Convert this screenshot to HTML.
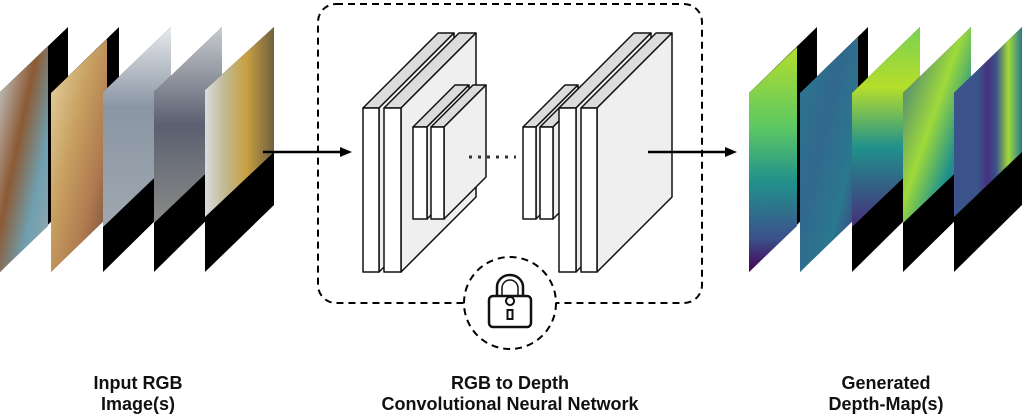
<!DOCTYPE html>
<html><head><meta charset="utf-8"><style>
html,body{margin:0;padding:0;background:#fff;width:1024px;height:416px;overflow:hidden}
svg{display:block}
text{font-family:"Liberation Sans",sans-serif;font-weight:bold;font-size:18px;fill:#111;text-anchor:middle}
</style></head><body>
<svg width="1024" height="416" viewBox="0 0 1024 416" xmlns="http://www.w3.org/2000/svg">
<defs>
<linearGradient id="p1" x1="0" y1="0" x2="1" y2="1"><stop offset="0" stop-color="#c9d3d8"/><stop offset=".4" stop-color="#8c5a34"/><stop offset=".7" stop-color="#6fa0b0"/><stop offset="1" stop-color="#9aa6ad"/></linearGradient>
<linearGradient id="p2" x1="0" y1="0" x2="1" y2="1"><stop offset="0" stop-color="#e8d8a8"/><stop offset=".4" stop-color="#c8a060"/><stop offset=".7" stop-color="#b07a50"/><stop offset="1" stop-color="#6a4a38"/></linearGradient>
<linearGradient id="p3" x1="0" y1="0" x2="0" y2="1"><stop offset="0" stop-color="#e8eaec"/><stop offset=".4" stop-color="#8a96a4"/><stop offset="1" stop-color="#a0a8b0"/></linearGradient>
<linearGradient id="p4" x1="0" y1="0" x2="0" y2="1"><stop offset="0" stop-color="#c8ccd0"/><stop offset=".5" stop-color="#5a6070"/><stop offset="1" stop-color="#8a8a88"/></linearGradient>
<linearGradient id="p5" x1="0" y1="0" x2="1" y2="0"><stop offset="0" stop-color="#d8dce0"/><stop offset=".3" stop-color="#c0b890"/><stop offset=".6" stop-color="#c8a040"/><stop offset="1" stop-color="#706040"/></linearGradient>
<linearGradient id="d1" x1="0" y1="0" x2="0" y2="1"><stop offset="0" stop-color="#b5de2b"/><stop offset=".35" stop-color="#5ec962"/><stop offset=".6" stop-color="#21918c"/><stop offset=".85" stop-color="#3b528b"/><stop offset="1" stop-color="#440154"/></linearGradient>
<linearGradient id="d2" x1="0" y1="0" x2="1" y2="1"><stop offset="0" stop-color="#2a788e"/><stop offset=".4" stop-color="#31688e"/><stop offset=".7" stop-color="#2a788e"/><stop offset="1" stop-color="#472d7b"/></linearGradient>
<linearGradient id="d3" x1="0" y1="0" x2="0" y2="1"><stop offset="0" stop-color="#7ad151"/><stop offset=".3" stop-color="#b5de2b"/><stop offset=".6" stop-color="#21918c"/><stop offset="1" stop-color="#472d7b"/></linearGradient>
<linearGradient id="d4" x1="0" y1="0" x2="1" y2="1"><stop offset="0" stop-color="#31688e"/><stop offset=".45" stop-color="#9fda3a"/><stop offset=".7" stop-color="#21918c"/><stop offset="1" stop-color="#3b528b"/></linearGradient>
<linearGradient id="d5" x1="0" y1="0" x2="1" y2="0"><stop offset="0" stop-color="#3b528b"/><stop offset=".35" stop-color="#3b528b"/><stop offset=".5" stop-color="#46327e"/><stop offset=".62" stop-color="#3b528b"/><stop offset=".8" stop-color="#a0da39"/><stop offset="1" stop-color="#2a788e"/></linearGradient>
</defs>

<polygon points="0,92 68,27 68,205 0,272" fill="#000"/>
<polygon points="0,92 48,46 48,226 0,272" fill="url(#p1)"/>
<polygon points="51,93 119,27 119,205 51,272" fill="#000"/>
<polygon points="51,93 107,39 107,218 51,272" fill="url(#p2)"/>
<polygon points="103,92 171,27 171,205 103,272" fill="#000"/>
<polygon points="103,92 171,27 171,162 103,227" fill="url(#p3)"/>
<polygon points="154,92 222,27 222,205 154,272" fill="#000"/>
<polygon points="154,92 222,27 222,158 154,223" fill="url(#p4)"/>
<polygon points="205,90 274,27 274,205 205,272" fill="#000"/>
<polygon points="205,90 274,27 274,152 205,217" fill="url(#p5)"/>

<line x1="263" y1="152" x2="341" y2="152" stroke="#000" stroke-width="2.5"/>
<polygon points="352,152 340,147 340,157" fill="#000"/>
<line x1="648" y1="152" x2="726" y2="152" stroke="#000" stroke-width="2.5"/>
<polygon points="737,152 725,147 725,157" fill="#000"/>

<rect x="318" y="4" width="384" height="299" rx="18" fill="none" stroke="#000" stroke-width="2" stroke-dasharray="7 5"/>

<g stroke="#111" stroke-width="1.5" stroke-linejoin="round">
<polygon points="363,108 379,108 454,33 438,33" fill="#dcdcdc"/>
<polygon points="379,108 454,33 454,197 379,272" fill="#efefef"/>
<rect x="363" y="108" width="16" height="164" fill="#fff"/>
<polygon points="384,108 401,108 476,33 459,33" fill="#dcdcdc"/>
<polygon points="401,108 476,33 476,197 401,272" fill="#efefef"/>
<rect x="384" y="108" width="17" height="164" fill="#fff"/>
<polygon points="413,127 427,127 469,85 455,85" fill="#dcdcdc"/>
<polygon points="427,127 469,85 469,177 427,219" fill="#efefef"/>
<rect x="413" y="127" width="14" height="92" fill="#fff"/>
<polygon points="431,127 444,127 486,85 473,85" fill="#dcdcdc"/>
<polygon points="444,127 486,85 486,177 444,219" fill="#efefef"/>
<rect x="431" y="127" width="13" height="92" fill="#fff"/>
<polygon points="523,127 536,127 578,85 565,85" fill="#dcdcdc"/>
<polygon points="536,127 578,85 578,177 536,219" fill="#efefef"/>
<rect x="523" y="127" width="13" height="92" fill="#fff"/>
<polygon points="540,127 553,127 595,85 582,85" fill="#dcdcdc"/>
<polygon points="553,127 595,85 595,177 553,219" fill="#efefef"/>
<rect x="540" y="127" width="13" height="92" fill="#fff"/>
<polygon points="559,108 576,108 651,33 634,33" fill="#dcdcdc"/>
<polygon points="576,108 651,33 651,197 576,272" fill="#efefef"/>
<rect x="559" y="108" width="17" height="164" fill="#fff"/>
<polygon points="581,108 597,108 672,33 656,33" fill="#dcdcdc"/>
<polygon points="597,108 672,33 672,197 597,272" fill="#efefef"/>
<rect x="581" y="108" width="16" height="164" fill="#fff"/>
</g>
<line x1="469" y1="157" x2="516" y2="157" stroke="#333" stroke-width="3" stroke-dasharray="3 6"/>
<line x1="648" y1="152" x2="672" y2="152" stroke="#000" stroke-width="2.5"/>

<circle cx="510" cy="303" r="46" fill="#fff" stroke="#000" stroke-width="2" stroke-dasharray="7 5"/>
<path d="M497,296 V287 a13,12 0 0 1 26,0 V296" fill="none" stroke="#111" stroke-width="2.5"/>
<path d="M502,296 V288 a8,8 0 0 1 16,0 V296" fill="none" stroke="#111" stroke-width="1.5"/>
<rect x="489" y="296" width="42" height="31" rx="4" fill="#fff" stroke="#111" stroke-width="2.5"/>
<path d="M510,305 a4,4 0 1 1 0.1,0 M507.5,310 h5 v9 h-5 z" fill="none" stroke="#111" stroke-width="2"/>

<polygon points="749,93 817,27 817,205 749,272" fill="#000"/>
<polygon points="749,93 797,47 797,226 749,272" fill="url(#d1)"/>
<polygon points="800,93 868,27 868,205 800,272" fill="#000"/>
<polygon points="800,93 858,37 858,216 800,272" fill="url(#d2)"/>
<polygon points="852,93 920,27 920,205 852,272" fill="#000"/>
<polygon points="852,93 920,27 920,162 852,227" fill="url(#d3)"/>
<polygon points="903,93 971,27 971,205 903,272" fill="#000"/>
<polygon points="903,93 971,27 971,158 903,223" fill="url(#d4)"/>
<polygon points="954,93 1022,27 1022,205 954,272" fill="#000"/>
<polygon points="954,93 1022,27 1022,152 954,217" fill="url(#d5)"/>

<text x="138" y="389">Input RGB</text>
<text x="138" y="410">Image(s)</text>
<text x="510" y="389">RGB to Depth</text>
<text x="510" y="410">Convolutional Neural Network</text>
<text x="886" y="389">Generated</text>
<text x="886" y="410">Depth-Map(s)</text>
</svg>
</body></html>
